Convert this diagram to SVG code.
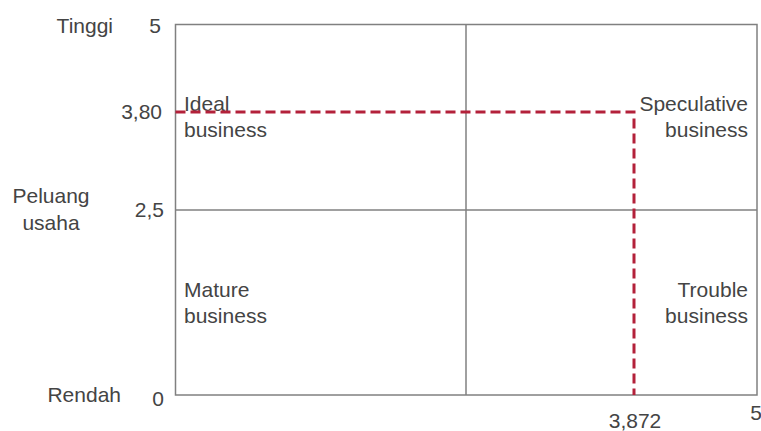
<svg xmlns="http://www.w3.org/2000/svg" width="761" height="431" viewBox="0 0 761 431">
<style>
text{font-family:"Liberation Sans",Arial,sans-serif;font-size:21px;fill:#444}
.e{text-anchor:end}
.m{text-anchor:middle}
.ax{fill:none;stroke:#808080;stroke-width:1.5}
.dash{fill:none;stroke:#b3213a;stroke-width:3;stroke-dasharray:10 5}
</style>
<rect width="761" height="431" fill="#fff"/>
<g id="grid">
<rect class="ax" x="175.5" y="24.5" width="581.5" height="370.5"/>
<line class="ax" x1="466" y1="24.5" x2="466" y2="395"/>
<line class="ax" x1="175.5" y1="210" x2="757" y2="210"/>
</g>
<g id="axis-labels">
<text x="113" y="33" class="e">Tinggi</text>
<text x="161" y="33" class="e">5</text>
<text x="162" y="119" class="e">3,80</text>
<text x="51" y="203" class="m">Peluang</text>
<text x="51" y="230" class="m">usaha</text>
<text x="164" y="217" class="e">2,5</text>
<text x="121" y="402" class="e">Rendah</text>
<text x="164" y="406" class="e">0</text>
<text x="635" y="428" class="m">3,872</text>
<text x="762" y="420" class="e">5</text>
</g>
<g id="q-ideal">
<text x="184" y="111">Ideal</text>
<text x="184" y="137">business</text>
</g>
<g id="q-speculative">
<text x="748" y="111" class="e">Speculative</text>
<text x="748" y="137" class="e">business</text>
</g>
<g id="q-mature">
<text x="184" y="297">Mature</text>
<text x="184" y="323">business</text>
</g>
<g id="q-trouble">
<text x="748" y="297" class="e">Trouble</text>
<text x="748" y="323" class="e">business</text>
</g>
<g id="connectors">
<path class="dash" d="M175.5 112 H634 V395"/>
</g>
</svg>
